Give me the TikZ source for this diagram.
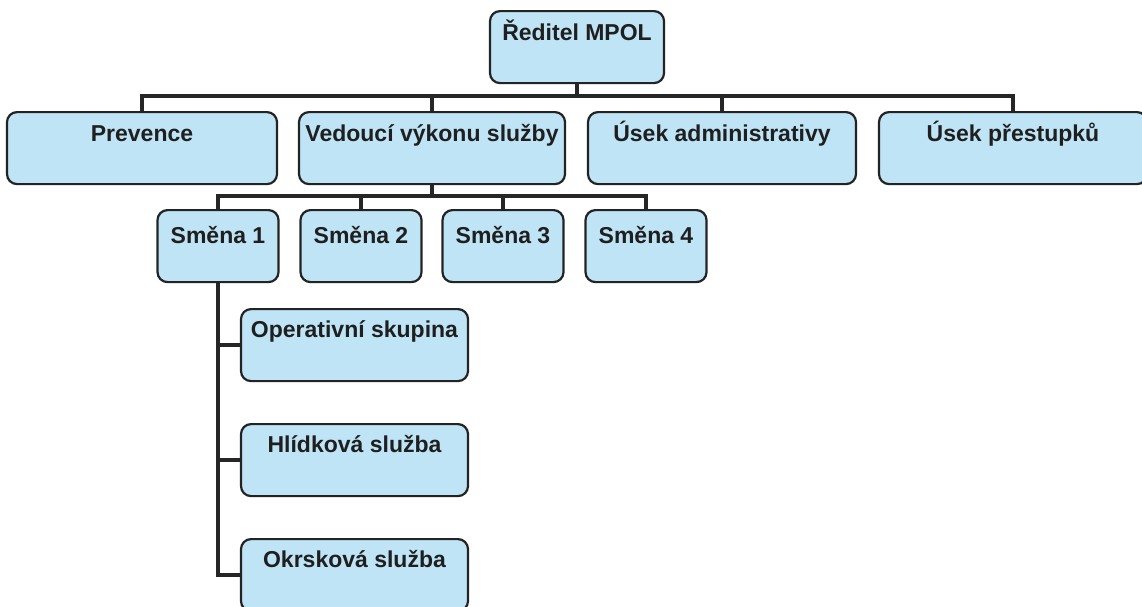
\documentclass[tikz,border=0pt]{standalone}
\usepackage{fontspec}
\setmainfont{Liberation Sans}
\definecolor{boxblue}{RGB}{190,228,245}
\definecolor{boxline}{RGB}{35,35,35}

\begin{document}
\begin{tikzpicture}[x=1pt,y=-1pt,
  unit/.style={draw=boxline, line width=2.2pt, fill=boxblue, rounded corners=10pt,
    anchor=north, inner sep=0pt, minimum height=72pt, text height=29pt, text depth=43pt,
    font=\fontsize{23}{27}\selectfont\bfseries, text=black!88},
  shiftbox/.style={unit, minimum width=121pt, text height=33pt, text depth=39pt},
  link/.style={line width=4.5pt, draw=black!85}]
  \useasboundingbox (0,0) rectangle (1142,606);
  % top
  \node[unit, minimum width=174pt] (dir) at (577,10) {Ředitel MPOL};
  % first level
  \node[unit, minimum width=270pt] (prev) at (142,111) {Prevence};
  \node[unit, minimum width=266pt] (lead) at (432,111) {Vedoucí výkonu služby};
  \node[unit, minimum width=268pt] (admin) at (722,111) {Úsek administrativy};
  \node[unit, minimum width=268pt] (offen) at (1013,111) {Úsek přestupků};
  % shifts
  \node[shiftbox] (s1) at (218,209) {Směna 1};
  \node[shiftbox] (s2) at (361,209) {Směna 2};
  \node[shiftbox] (s3) at (503,209) {Směna 3};
  \node[shiftbox] (s4) at (646,209) {Směna 4};
  % units of shift 1
  \node[unit, minimum width=227pt, text height=28pt, text depth=44pt] (oper) at (354.5,308) {Operativní skupina};
  \node[unit, minimum width=227pt, text height=28pt, text depth=44pt] (patrol) at (354.5,423) {Hlídková služba};
  \node[unit, minimum width=227pt, text height=28pt, text depth=44pt] (district) at (354.5,538) {Okrsková služba};

  \coordinate (bus1) at (0,96);
  \coordinate (bus2) at (0,196);
  \foreach \n in {prev,lead,admin,offen}
    \draw[link] (dir.south) -- (dir.south |- bus1) -| (\n.north);
  \foreach \n in {s1,s2,s3,s4}
    \draw[link] (lead.south) -- (lead.south |- bus2) -| (\n.north);
  \draw[link] (s1.south) |- (district.west);
  \draw[link] (s1.south |- oper.west) -- (oper.west);
  \draw[link] (s1.south |- patrol.west) -- (patrol.west);
\end{tikzpicture}
\end{document}
